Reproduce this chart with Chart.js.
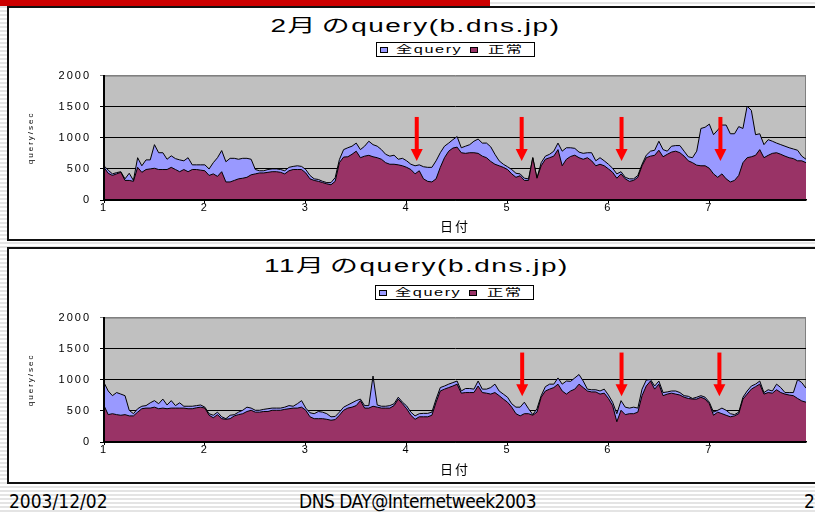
<!DOCTYPE html>
<html>
<head>
<meta charset="utf-8">
<script src="https://cdn.jsdelivr.net/npm/chart.js@4"></script>
<style>
  html, body { margin:0; padding:0; }
  body {
    width:815px; height:512px; overflow:hidden; position:relative;
    background:repeating-linear-gradient(to bottom,#fff 0,#fff 2px,#e4e4e4 2px,#e4e4e4 4px);
    font-family:"Liberation Sans","Noto Sans CJK JP",sans-serif; color:#000;
  }
  .bar { position:absolute; left:0; top:0; width:490px; height:6px; background:#cc0000; }
  .box { position:absolute; left:7px; width:830px; background:#fff; border:2px solid #111; box-sizing:border-box; }
  .title { position:absolute; left:0; width:832px; text-align:center; font-size:18px; line-height:22px; white-space:nowrap; }
  .title span { display:inline-block; transform:scaleX(1.55); letter-spacing:1px; word-spacing:-3px; }
  .legend { position:absolute; width:159px; height:15px; border:1px solid #000; box-sizing:border-box; background:#fff; }
  .sw { position:absolute; top:4px; width:8px; height:6px; border:1px solid #000; box-sizing:border-box; }
  .lt { position:absolute; top:0; font-size:10.5px; line-height:13px; letter-spacing:1px; white-space:nowrap;
        transform:scaleX(1.55); transform-origin:left center; }
  canvas { position:absolute; left:0; }
  .foot { position:absolute; top:490px; font-family:"Liberation Sans Narrow","DejaVu Sans Condensed",sans-serif;
          font-size:19px; line-height:22px; white-space:nowrap; }
</style>
</head>
<body>
<div class="bar"></div>

<div class="box" style="top:6px;height:235px;"></div>
<div class="title" style="top:15px;"><span>2月 のquery(b.dns.jp)</span></div>
<div class="legend" style="left:376px;top:42px;">
  <div class="sw" style="left:3px;background:#9999ff;"></div><div class="lt" style="left:19px;">全query</div>
  <div class="sw" style="left:93px;background:#993366;"></div><div class="lt" style="left:111px;">正常</div>
</div>
<canvas id="chart-feb" width="815" height="180" style="top:60px;"></canvas>

<div class="box" style="top:247px;height:237px;"></div>
<div class="title" style="top:255px;"><span>11月 のquery(b.dns.jp)</span></div>
<div class="legend" style="left:375px;top:285px;">
  <div class="sw" style="left:3px;background:#9999ff;"></div><div class="lt" style="left:19px;">全query</div>
  <div class="sw" style="left:93px;background:#993366;"></div><div class="lt" style="left:111px;">正常</div>
</div>
<canvas id="chart-nov" width="815" height="180" style="top:302px;"></canvas>

<div class="foot" style="left:9px;">2003/12/02</div>
<div class="foot" style="left:299px;letter-spacing:-0.5px;">DNS DAY@Internetweek2003</div>
<div class="foot" style="left:804px;">2</div>

<script>
// ── hourly query/sec, 7 days (168 samples) ──
const FIRST_DAY = 1;
const HOURS_PER_DAY = 24;
const DAY_TICKS = [1, 2, 3, 4, 5, 6, 7];

const FEB_TOTAL = [
  550,480,420,440,455,340,430,315,680,550, 645,645,890,760,760,655,710,665,645,630,
  680,565,565,565,565,500,600,680,795,615, 670,670,655,670,670,655,490,470,470,490,
  500,500,490,470,525,540,550,540,490,395, 340,330,300,280,280,360,650,810,840,865,
  915,810,865,945,890,865,810,735,705,720, 655,670,630,575,550,565,535,525,525,630,
  760,865,915,970,1020,840,865,890,945,980, 915,915,855,735,630,575,535,490,430,420,
  350,340,680,350,600,705,735,785,915,785, 840,840,830,770,750,760,760,630,680,630,
  575,510,420,455,365,340,340,395,575,720, 785,800,945,810,785,865,875,875,785,695,
  680,785,1150,1170,1220,1050,1125,1205,1205,1065, 1065,1180,1150,1510,1440,1050,1065,890,970,945,
  915,890,865,840,820,800,705,655
];
const FEB_NORMAL = [
  525,430,395,420,445,315,315,300,525,445, 490,500,510,490,490,490,525,490,455,490,
  455,490,490,480,470,395,420,380,455,290, 290,315,340,350,365,405,420,435,435,445,
  455,455,445,420,470,490,490,490,435,340, 315,300,280,260,245,300,600,690,695,735,
  785,680,705,718,695,680,655,600,575,575, 565,550,525,490,420,470,340,300,290,340,
  525,680,785,835,850,760,750,760,760,750, 705,680,620,575,550,525,490,420,365,390,
  315,315,680,350,550,655,680,705,810,550, 655,700,720,680,655,680,630,550,575,550,
  500,445,350,420,340,300,315,365,550,680, 705,718,800,695,735,770,785,760,705,630,
  600,560,550,550,510,420,365,420,340,290, 315,395,600,680,695,718,810,680,718,750,
  760,735,705,680,665,630,630,600
];
const NOV_TOTAL = [
  955,820,745,795,770,745,510,455,535,575, 585,630,665,615,690,595,665,585,630,575,
  575,575,585,595,560,455,430,480,405,375, 430,440,480,510,560,545,510,510,525,535,
  545,545,545,560,585,575,615,665,545,470, 455,490,480,455,405,410,480,560,595,630,
  665,690,585,585,1060,595,575,575,585,615, 720,640,580,480,420,455,460,460,480,690,
  875,900,930,955,980,820,860,860,850,980, 850,850,875,930,820,770,720,615,560,560,
  640,535,440,535,745,890,930,930,1030,930, 980,975,1030,1085,980,850,840,840,820,850,
  755,640,455,665,560,545,560,545,850,995, 1005,900,980,795,805,820,820,795,745,735,
  700,720,745,720,640,480,510,545,510,455, 440,480,720,820,900,930,980,795,840,820,
  930,875,795,795,795,1005,955,865
];
const NOV_NORMAL = [
  585,440,455,440,430,440,420,420,480,535, 545,545,560,535,545,535,545,545,545,545,
  535,535,550,560,545,430,390,440,375,365, 375,420,440,455,490,510,480,480,490,490,
  510,510,510,525,535,545,545,560,510,405, 375,375,375,365,350,360,430,510,545,560,
  585,665,545,545,575,560,545,545,545,585, 690,615,535,430,365,405,405,405,430,640,
  820,850,875,900,930,785,795,795,795,900, 795,785,770,795,745,690,640,560,455,420,
  455,455,430,480,720,820,850,875,930,820, 770,820,850,930,875,820,805,805,770,785,
  700,585,325,510,440,455,455,480,745,900, 980,850,930,745,770,785,770,755,720,700,
  690,690,720,690,615,430,480,455,430,405, 420,455,690,770,850,890,930,770,795,785,
  840,795,770,755,745,700,660,640
];

// red arrows (day position, from / to in query/sec)
const FEB_ARROWS = [4.10, 5.14, 6.13, 7.11];
const FEB_ARROW_RANGE = [1335, 628];
const NOV_ARROWS = [5.145, 6.13, 7.10];
const NOV_ARROW_RANGE = [1438, 735];

const toPoints = vals => vals.map((v, i) => ({ x: FIRST_DAY + i / HOURS_PER_DAY, y: v }));

// gray plot area + frame
const plotBg = {
  id: 'plotBg',
  beforeDraw(chart) {
    const { ctx, chartArea: a } = chart;
    ctx.letterSpacing = '2px';
    ctx.save();
    ctx.fillStyle = '#c0c0c0';
    ctx.fillRect(a.left, a.top, a.width, a.height);
    ctx.strokeStyle = '#808080';
    ctx.lineWidth = 1;
    ctx.strokeRect(a.left + 0.5, a.top + 0.5, a.width - 1, a.height);
    ctx.restore();
  }
};

const arrows = {
  id: 'arrows',
  afterDatasetsDraw(chart, args, opts) {
    const { ctx, scales: { x, y } } = chart;
    const top = y.getPixelForValue(opts.range[0]);
    const tip = y.getPixelForValue(opts.range[1]);
    ctx.save();
    ctx.fillStyle = '#ff0000';
    opts.days.forEach(d => {
      const px = x.getPixelForValue(d);
      ctx.fillRect(px - 2, top, 4, tip - top - 11);
      ctx.beginPath();
      ctx.moveTo(px - 6, tip - 12);
      ctx.lineTo(px + 6, tip - 12);
      ctx.lineTo(px, tip);
      ctx.closePath();
      ctx.fill();
    });
    ctx.restore();
  }
};

function makeChart(id, total, normal, arrowDays, arrowRange, titlePad) {
  return new Chart(document.getElementById(id), {
    type: 'line',
    data: { datasets: [
      { label: '全query', data: toPoints(total), backgroundColor: '#9999ff', borderColor: '#000', borderWidth: 1,
        fill: 'origin', pointRadius: 0, tension: 0, order: 2 },
      { label: '正常', data: toPoints(normal), backgroundColor: '#993366', borderColor: '#000', borderWidth: 1,
        fill: 'origin', pointRadius: 0, tension: 0, order: 1 }
    ]},
    options: {
      responsive: false, animation: false, events: [],
      layout: { padding: { left: 0, right: 9, top: 12, bottom: 0 } },
      plugins: {
        legend: { display: false }, tooltip: { enabled: false },
        arrows: { days: arrowDays, range: arrowRange }
      },
      scales: {
        x: {
          type: 'linear', min: FIRST_DAY, max: FIRST_DAY + (total.length - 1) / HOURS_PER_DAY,
          afterBuildTicks(s) { s.ticks = DAY_TICKS.map(v => ({ value: v })); },
          afterFit(s) { s.height = 40; },
          ticks: { color: '#000', font: { size: 11, family: 'Liberation Sans' }, padding: -2, maxRotation: 0, autoSkip: false,
                   callback: v => String(v) },
          grid: { display: true, drawOnChartArea: false, drawTicks: true, tickLength: 3, color: '#000' },
          border: { display: true, color: '#000', width: 1.5, z: 1 },
          title: { display: true, text: '日付', color: '#000', font: { size: 13, family: 'Noto Sans CJK JP' },
                   padding: { top: 0, bottom: titlePad } }
        },
        y: {
          min: 0, max: 2000,
          afterFit(s) { s.width = 104; },
          ticks: { stepSize: 500, color: '#000', font: { size: 11, family: 'Liberation Sans' }, padding: 9,
                   callback: v => String(v) },
          grid: { color: c => (c.tick && c.tick.value === 2000) ? '#808080' : '#000', tickLength: 4, drawTicks: true },
          border: { display: true, color: '#000', width: 2, z: 1 },
          title: { display: true, text: 'query/sec', color: '#000', font: { size: 8, family: 'Liberation Sans' },
                   padding: { top: 26, bottom: 0 } }
        }
      }
    },
    plugins: [plotBg, arrows]
  });
}

makeChart('chart-feb', FEB_TOTAL, FEB_NORMAL, FEB_ARROWS, FEB_ARROW_RANGE, 6);
makeChart('chart-nov', NOV_TOTAL, NOV_NORMAL, NOV_ARROWS, NOV_ARROW_RANGE, 5);
</script>
</body>
</html>
